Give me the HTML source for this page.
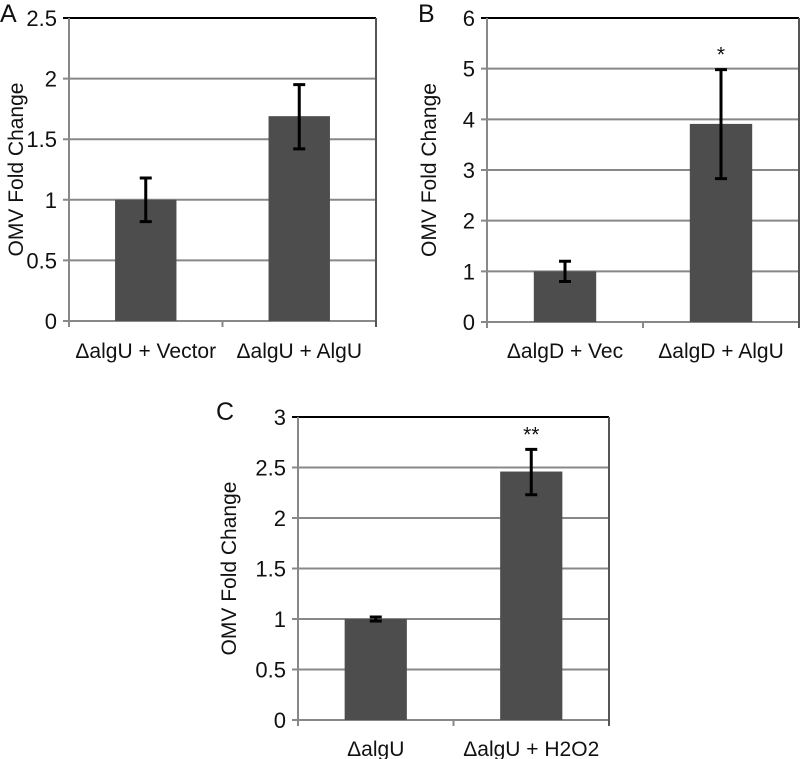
<!DOCTYPE html>
<html><head><meta charset="utf-8"><style>
body{margin:0;background:#fff}
svg{display:block;font-family:"Liberation Sans",sans-serif}
</style></head><body>
<svg id="fig" width="800" height="759"></svg>
<script>
const catsA=["ΔalgU + Vector","ΔalgU + AlgU"];
const valsA=[1.0,1.69];
const errLoA=[0.82,1.42];
const errHiA=[1.18,1.95];
const ticksA=[0,0.5,1,1.5,2,2.5];
const catsB=["ΔalgD + Vec","ΔalgD + AlgU"];
const valsB=[1.0,3.91];
const errLoB=[0.8,2.83];
const errHiB=[1.2,4.98];
const ticksB=[0,1,2,3,4,5,6];
const sigB=["","*"];
const catsC=["ΔalgU","ΔalgU + H2O2"];
const valsC=[1.0,2.46];
const errLoC=[0.98,2.23];
const errHiC=[1.02,2.68];
const ticksC=[0,0.5,1,1.5,2,2.5,3];
const sigC=["","**"];
const NS="http://www.w3.org/2000/svg";
const svg=document.getElementById('fig');
function mk(tag,at,parent,txt){const e=document.createElementNS(NS,tag);for(const k in at)e.setAttribute(k,at[k]);if(txt!==undefined)e.textContent=txt;(parent||svg).appendChild(e);return e;}
function panel(id,letter,lx,ly,L,R,T,B,cats,vals,lo,hi,ticks,sig,titleX,labelY){
  const g=mk('g',{});
  
  
  const max=ticks[ticks.length-1];
  const y=v=>B-(v/max)*(B-T);
  const bw=(R-L)/cats.length;
  const x=i=>L+bw*(i+0.5);
  ticks.forEach(t=>{
    const gl=mk('line',{x1:L-6,x2:R,y1:y(t),y2:y(t),stroke:t==max?'#000':'#888','stroke-width':2},g);
    
    
    const tl=mk('text',{x:L-12,y:y(t)+8,'text-anchor':'end','font-size':22,fill:'#111'},g,String(t));
    
    
  });
  mk('line',{x1:L,x2:L,y1:T,y2:B+6,stroke:'#888','stroke-width':2},g);
  mk('line',{x1:R,x2:R,y1:T,y2:B+6,stroke:'#555','stroke-width':2},g);
  for(let i=1;i<cats.length;i++)mk('line',{x1:L+bw*i,x2:L+bw*i,y1:B,y2:B+6,stroke:'#888','stroke-width':2},g);
  cats.forEach((c,i)=>{
    const w=bw*0.4;
    const b=mk('rect',{x:x(i)-w/2,y:y(vals[i]),width:w,height:B-y(vals[i]),fill:'#4d4d4d'},g);
    
    
    const e=mk('path',{d:`M${x(i)} ${y(lo[i])}V${y(hi[i])}M${x(i)-6} ${y(lo[i])}h12M${x(i)-6} ${y(hi[i])}h12`,stroke:'#000','stroke-width':3,fill:'none'},g);
    
    
    const cl=mk('text',{x:x(i),y:labelY,'text-anchor':'middle','font-size':21,fill:'#111'},g,c);
    
    
    if(sig&&sig[i]){const s=mk('text',{x:x(i),y:y(hi[i])-8,'text-anchor':'middle','font-size':21,fill:'#111'},g,sig[i]);
      
      }
  });
  const yt=mk('text',{x:titleX,y:(T+B)/2,'text-anchor':'middle','font-size':21,fill:'#111',transform:`rotate(-90 ${titleX} ${(T+B)/2})`},g,'OMV Fold Change');
  
  
  const pl=mk('text',{x:lx,y:ly,'font-size':25,fill:'#111'},g,letter);
  
  
}
panel('a','A',0,22,69,376,18,321,catsA,valsA,errLoA,errHiA,ticksA,null,23,358);
panel('b','B',418,22,487,799,18,322,catsB,valsB,errLoB,errHiB,ticksB,sigB,436,358);
panel('c','C',216,420,298,609,417,720,catsC,valsC,errLoC,errHiC,ticksC,sigC,236,756);
</script>
</body></html>
